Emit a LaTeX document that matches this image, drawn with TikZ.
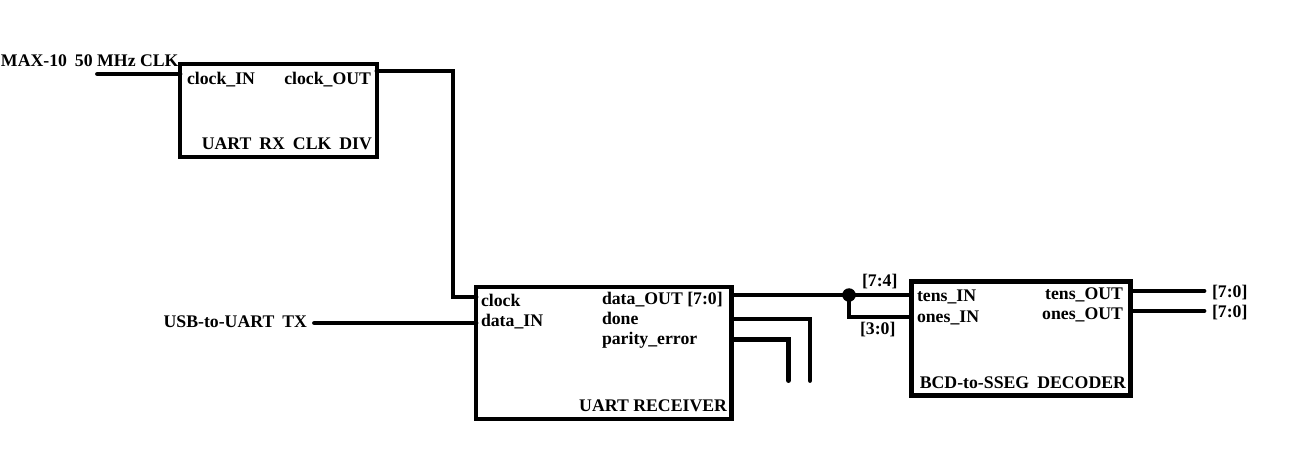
\documentclass[tikz,border=0pt]{standalone}
\usepackage{fontspec}
\setmainfont{Liberation Serif}
\usepackage{tikz}
\usetikzlibrary{positioning,calc}
\newcommand{\gap}{\hskip0.45em\relax}

\begin{document}
\begin{tikzpicture}[x=0.02cm, y=-0.02cm,
  font=\fontsize{10.1}{12}\selectfont\bfseries,
  blk/.style={draw=black, line width=2.8pt, fill=white, outer sep=0pt, inner sep=0pt, anchor=north west},
  wire/.style={draw=black, line width=2.8pt, line cap=round},
  pin/.style={inner sep=0pt, outer sep=0pt},
  junc/.style={circle, fill=black, inner sep=0pt, minimum size=0.27cm}]
  \useasboundingbox (0,0) rectangle (1296,476);
  % blocks
  \node[blk, minimum width=3.94cm, minimum height=1.86cm] (div) at (180,64) {};
  \node[blk, minimum width=5.12cm, minimum height=2.64cm] (rx) at (476,287) {};
  \node[blk, minimum width=4.38cm, minimum height=2.28cm] (dec) at (911.5,281.5) {};
  % block pins
  \node[pin, anchor=base west] (clkin) at (187,85) {clock\_IN};
  \node[pin, anchor=base east] (clkout) at (371,85) {clock\_OUT};
  \node[pin, anchor=base east] (divname) at (372,150) {UART\gap RX\gap CLK\gap DIV};
  \node[pin, anchor=base west] (rxclk) at (481,307) {clock};
  \node[pin, anchor=base west] (rxin) at (481,327) {data\_IN};
  \node[pin, anchor=base west] (rxout) at (602,305) {data\_OUT [7:0]};
  \node[pin, anchor=base west] (rxdone) at (602,325) {done};
  \node[pin, anchor=base west] (rxpar) at (602,345) {parity\_error};
  \node[pin, anchor=base east] (rxname) at (727,412) {UART RECEIVER};
  \node[pin, anchor=base west] (tensin) at (917,302) {tens\_IN};
  \node[pin, anchor=base west] (onesin) at (917,323) {ones\_IN};
  \node[pin, anchor=base east] (tensout) at (1123,300) {tens\_OUT};
  \node[pin, anchor=base east] (onesout) at (1123,320) {ones\_OUT};
  \node[pin, anchor=base east] (decname) at (1126,389) {BCD-to-SSEG\gap DECODER};
  % outside labels
  \node[pin, anchor=base west] (maxlbl) at (1,67) {MAX-10\gap 50 MHz CLK};
  \node[pin, anchor=base east] (usblbl) at (307,328) {USB-to-UART\gap TX};
  \node[pin, anchor=base west] (hilbl) at (862,287) {[7:4]};
  \node[pin, anchor=base west] (lolbl) at (860,335) {[3:0]};
  \node[pin, anchor=base west] (tenslbl) at (1212,298) {[7:0]};
  \node[pin, anchor=base west] (oneslbl) at (1212,318) {[7:0]};
  % wire ends
  \coordinate (maxin) at (97.5,74);
  \coordinate (clkturn) at (453,297);
  \coordinate (usbin) at (314.5,323);
  \coordinate (onesturn) at (849,317);
  \coordinate (doneend) at (810,380.5);
  \coordinate (parend) at (788.5,380.5);
  \coordinate (tensend) at (1204,291);
  \coordinate (onesend) at (1204,311);
  \node[junc] (split) at (849,295) {};
  % wires
  \draw[wire] (maxin) -- (maxin -| div.west);
  \draw[wire] (div.east |- 0,71) -| (clkturn) -- (clkturn -| rx.west);
  \draw[wire] (usbin) -- (usbin -| rx.west);
  \draw[wire] (split.center -| rx.east) -- (split.center -| dec.west);
  \draw[wire] (split.center) -- (onesturn) -- (onesturn -| dec.west);
  \draw[wire] (rx.east |- 0,319) -| (doneend);
  \draw[wire] (rx.east |- 0,339.5) -| (parend);
  \draw[wire] (tensend -| dec.east) -- (tensend);
  \draw[wire] (onesend -| dec.east) -- (onesend);
\end{tikzpicture}
\end{document}
